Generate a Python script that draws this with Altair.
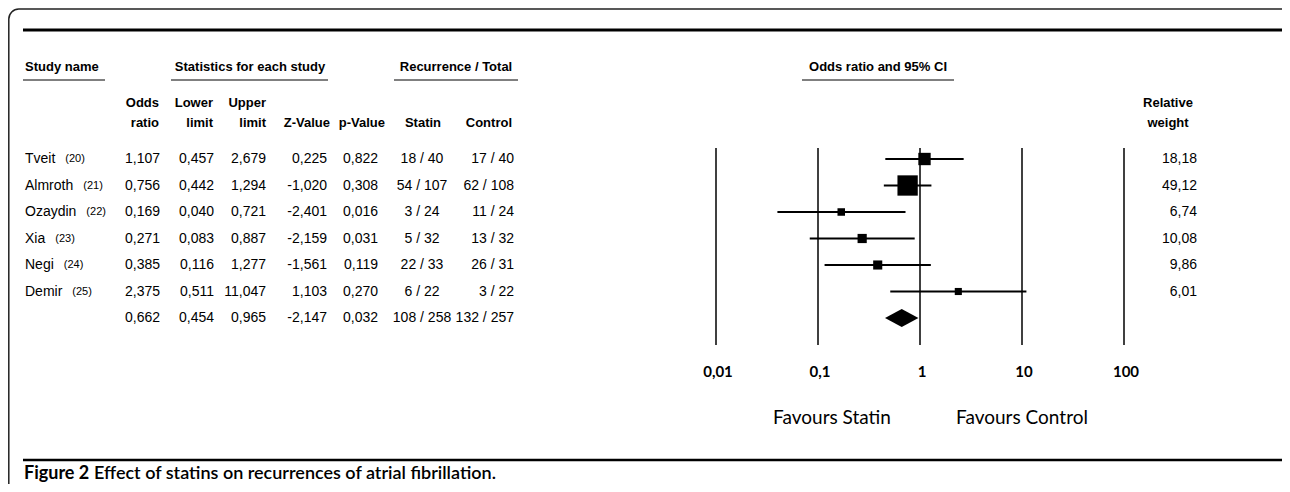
import altair as alt
import pandas as pd

# ---------------- data ----------------
studies = ["Tveit", "Almroth", "Ozaydin", "Xia", "Negi", "Demir"]
refs = ["(20)", "(21)", "(22)", "(23)", "(24)", "(25)"]
odds_ratio = [1.107, 0.756, 0.169, 0.271, 0.385, 2.375]
lower_limit = [0.457, 0.442, 0.040, 0.083, 0.116, 0.511]
upper_limit = [2.679, 1.294, 0.721, 0.887, 1.277, 11.047]
z_value = [0.225, -1.020, -2.401, -2.159, -1.561, 1.103]
p_value = [0.822, 0.308, 0.016, 0.031, 0.119, 0.270]
statin = ["18 / 40", "54 / 107", "3 / 24", "5 / 32", "22 / 33", "6 / 22"]
control = ["17 / 40", "62 / 108", "11 / 24", "13 / 32", "26 / 31", "3 / 22"]
rel_weight = [18.18, 49.12, 6.74, 10.08, 9.86, 6.01]

sum_or, sum_lo, sum_hi = 0.662, 0.454, 0.965
sum_z, sum_p = -2.147, 0.032
sum_statin, sum_control = "108 / 258", "132 / 257"

tick_values = [0.01, 0.1, 1, 10, 100]
tick_labels = ["0,01", "0,1", "1", "10", "100"]

# ---------------- helpers ----------------
ARIAL = "Liberation Sans, Arial, sans-serif"
CAL = "Lato, Open Sans, sans-serif"
OFF = 8  # page margin


def fmt(v, d=3):
    return f"{v:.{d}f}".replace(".", ",")


yscale = alt.Scale(domain=[0, 6], range=[159 - OFF, 318 - OFF])
xscale = alt.Scale(type="log", domain=[0.01, 100], range=[716 - OFF, 1124 - OFF])


def label(text, x, y, size, weight="normal", align="left", font=ARIAL):
    return alt.Chart(alt.Data(values=[{"t": text}])).mark_text(
        align=align, baseline="middle", fontSize=size, fontWeight=weight,
        font=font, color="black"
    ).encode(x=alt.value(x - OFF), y=alt.value(y - OFF), text="t:N")


def hrule(x1, x2, y, w):
    return alt.Chart(alt.Data(values=[{"a": 1}])).mark_rule(
        strokeWidth=w, color="black"
    ).encode(x=alt.value(x1 - OFF), x2=alt.value(x2 - OFF), y=alt.value(y - OFF))


n = len(studies)
table = pd.DataFrame({
    "row": list(range(n + 1)),
    "name": studies + [""],
    "or_s": [fmt(v) for v in odds_ratio] + [fmt(sum_or)],
    "lo_s": [fmt(v) for v in lower_limit] + [fmt(sum_lo)],
    "hi_s": [fmt(v) for v in upper_limit] + [fmt(sum_hi)],
    "z_s": [fmt(v) for v in z_value] + [fmt(sum_z)],
    "p_s": [fmt(v) for v in p_value] + [fmt(sum_p)],
    "statin": statin + [sum_statin],
    "control": control + [sum_control],
})

forest = pd.DataFrame({
    "row": list(range(n)),
    "or": odds_ratio,
    "lo": lower_limit,
    "hi": upper_limit,
    "w": rel_weight,
    "w_s": [fmt(v, 2) for v in rel_weight],
})

half = 0.34
diamond = pd.DataFrame({
    "x": [sum_lo, sum_or, sum_hi],
    "yt": [n, n - half, n],
    "yb": [n, n + half, n],
})

ticks = pd.DataFrame({"v": tick_values, "lab": tick_labels})

layers = []

# frame and heavy rules
layers.append(
    alt.Chart(alt.Data(values=[{"a": 1}])).mark_rect(
        cornerRadius=10, fillOpacity=0, stroke="#222", strokeWidth=1.5
    ).encode(x=alt.value(0.8), x2=alt.value(1400), y=alt.value(1), y2=alt.value(700))
)
layers.append(hrule(23, 1300, 30, 3))
layers.append(hrule(23, 1300, 460, 2.5))

# group headers
HB = 13
GY = 67
layers += [
    label("Study name", 25, GY, HB, "bold"),
    hrule(23, 105, 80, 1),
    label("Statistics for each study", 250, GY, HB, "bold", "center"),
    hrule(171, 328, 80, 1),
    label("Recurrence / Total", 456, GY, HB, "bold", "center"),
    hrule(394, 518, 80, 1),
    label("Odds ratio and 95%  CI", 878, GY, HB, "bold", "center"),
    hrule(802, 954, 80, 1),
]

# column headers
L1, L2 = 103, 123
layers += [
    label("Odds", 159, L1, HB, "bold", "right"),
    label("ratio", 159, L2, HB, "bold", "right"),
    label("Lower", 213, L1, HB, "bold", "right"),
    label("limit", 213, L2, HB, "bold", "right"),
    label("Upper", 266, L1, HB, "bold", "right"),
    label("limit", 266, L2, HB, "bold", "right"),
    label("Z-Value", 330, L2, HB, "bold", "right"),
    label("p-Value", 385, L2, HB, "bold", "right"),
    label("Statin", 423, L2, HB, "bold", "center"),
    label("Control", 512, L2, HB, "bold", "right"),
    label("Relative", 1168, L1, HB, "bold", "center"),
    label("weight", 1168, L2, HB, "bold", "center"),
]

# table columns
VS = 14
cols = [("name", 25, "left"), ("or_s", 160, "right"), ("lo_s", 214, "right"),
        ("hi_s", 266, "right"), ("z_s", 327, "right"), ("p_s", 378, "right"),
        ("statin", 422, "center"), ("control", 514, "right")]
for field, x, al in cols:
    layers.append(
        alt.Chart(table).mark_text(align=al, baseline="middle", fontSize=VS,
                                   font=ARIAL, color="black").encode(
            x=alt.value(x - OFF),
            y=alt.Y("row:Q", scale=yscale, axis=None),
            text=f"{field}:N",
        )
    )

# reference numbers after names (placed from approximate Arial glyph widths)
W = {"T": 611, "v": 500, "e": 556, "i": 222, "t": 278, "A": 667, "l": 222, "m": 833,
     "r": 333, "o": 556, "h": 556, "O": 778, "z": 500, "a": 556, "y": 500, "d": 556,
     "n": 556, "X": 667, "N": 722, "g": 556, "D": 722}
for i, (nm, rf) in enumerate(zip(studies, refs)):
    wpx = sum(W.get(c, 556) for c in nm) * VS / 1000
    layers.append(
        alt.Chart(pd.DataFrame({"row": [i], "ref": [rf]})).mark_text(
            align="left", baseline="middle", fontSize=11, font=ARIAL, color="black"
        ).encode(
            x=alt.value(25 + wpx + 10 - OFF),
            y=alt.Y("row:Q", scale=yscale, axis=None),
            text="ref:N",
        )
    )

# relative weight values
layers.append(
    alt.Chart(forest).mark_text(align="right", baseline="middle", fontSize=VS,
                                font=ARIAL, color="black").encode(
        x=alt.value(1197 - OFF),
        y=alt.Y("row:Q", scale=yscale, axis=None),
        text="w_s:N",
    )
)

# forest plot: vertical lines
layers.append(
    alt.Chart(ticks).mark_rule(color="black", strokeWidth=1.5).encode(
        x=alt.X("v:Q", scale=xscale, axis=None),
        y=alt.value(148 - OFF), y2=alt.value(345 - OFF),
    )
)
layers.append(
    alt.Chart(ticks).mark_text(baseline="middle", align="center", fontSize=15,
                               fontWeight="bold", font=CAL, color="black", dx=2).encode(
        x=alt.X("v:Q", scale=xscale, axis=None),
        y=alt.value(372 - OFF),
        text="lab:N",
    )
)

# CI lines
layers.append(
    alt.Chart(forest).mark_rule(color="black", strokeWidth=2.2).encode(
        x=alt.X("lo:Q", scale=xscale, axis=None),
        x2="hi:Q",
        y=alt.Y("row:Q", scale=yscale, axis=None),
    )
)
# squares
layers.append(
    alt.Chart(forest).mark_square(color="black", opacity=1).encode(
        x=alt.X("or:Q", scale=xscale, axis=None),
        y=alt.Y("row:Q", scale=yscale, axis=None),
        size=alt.Size("w:Q", scale=alt.Scale(domain=[0, 50], range=[0, 420]), legend=None),
    )
)
# summary diamond
layers.append(
    alt.Chart(diamond).mark_area(color="black", opacity=1, orient="vertical").encode(
        x=alt.X("x:Q", scale=xscale, axis=None),
        y=alt.Y("yt:Q", scale=yscale, axis=None),
        y2="yb:Q",
    )
)

# favours labels
layers += [
    label("Favours Statin", 832, 418, 19, "normal", "center", CAL),
    label("Favours Control", 1022, 418, 19, "normal", "center", CAL),
]

# caption
layers += [
    label("Figure 2", 24, 474, 18, "bold", "left", CAL),
    label("Effect of statins on recurrences of atrial fibrillation.", 94, 474, 18, 600, "left", CAL),
]

chart = alt.layer(*layers).properties(
    width=1274, height=476, padding=0,
    autosize=alt.AutoSizeParams(type="none"),
).configure_view(stroke=None)

chart.save("out.html", embed_options={"renderer": "svg", "actions": False})
